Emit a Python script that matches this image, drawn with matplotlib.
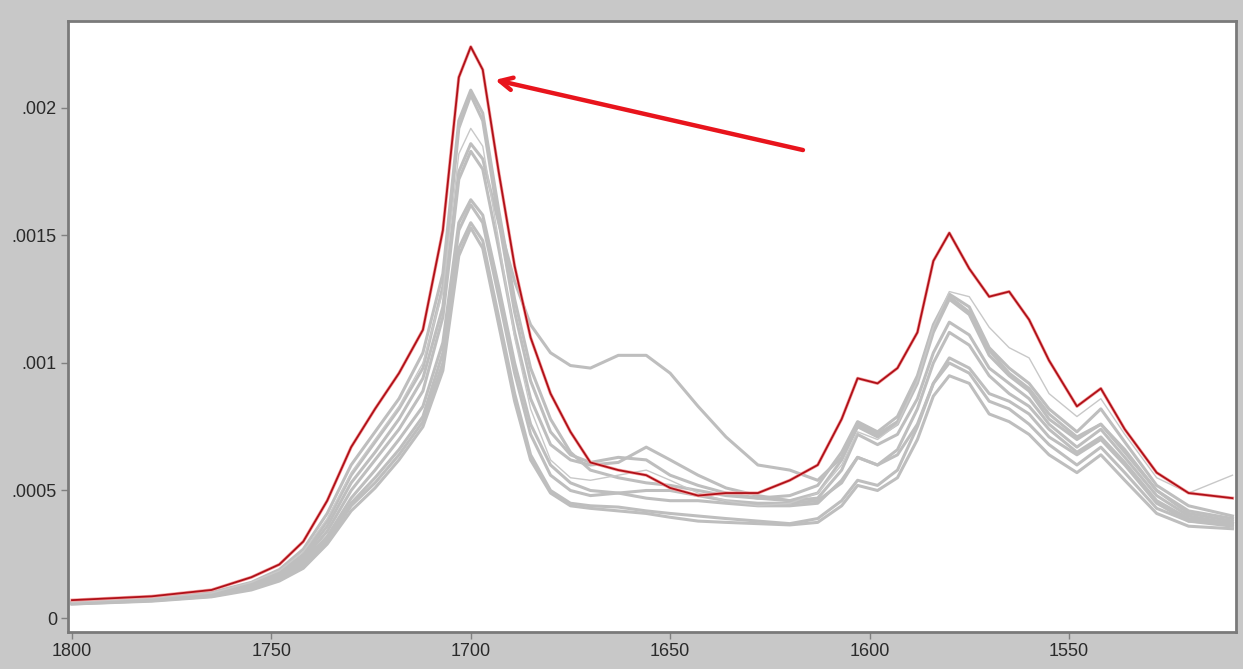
import matplotlib
matplotlib.use("Agg")
import matplotlib.pyplot as plt
from matplotlib.ticker import FuncFormatter

# wavenumber grid (cm-1) shared by all spectra
wavenumber = [1800, 1780, 1765, 1755, 1748, 1742, 1736, 1730, 1724, 1718,
              1712, 1707, 1703, 1700, 1697, 1693, 1689, 1685, 1680, 1675,
              1670, 1663, 1656, 1650, 1643, 1636, 1628, 1620, 1613, 1607,
              1603, 1598, 1593, 1588, 1584, 1580, 1575, 1570, 1565, 1560,
              1555, 1548, 1542, 1536, 1528, 1520, 1509]

# absorbance values in units of 1e-4
red_spectrum = [0.70, 0.85, 1.1, 1.6, 2.1, 3.0, 4.6, 6.7, 8.2, 9.6,
                11.3, 15.2, 21.2, 22.4, 21.5, 17.5, 13.8, 11.0, 8.8, 7.3,
                6.1, 5.8, 5.6, 5.1, 4.8, 4.9, 4.9, 5.4, 6.0, 7.8,
                9.4, 9.2, 9.8, 11.2, 14.0, 15.1, 13.7, 12.6, 12.8, 11.7,
                10.1, 8.3, 9.0, 7.4, 5.7, 4.9, 4.7]

gray_1 = [0.65, 0.8, 1.0, 1.4, 1.9, 2.7, 4.1, 6.0, 7.3, 8.6,
          10.4, 13.5, 19.5, 20.7, 19.8, 16.0, 12.5, 9.8, 7.8, 6.5,
          5.8, 5.5, 5.3, 5.2, 5.0, 4.8, 4.7, 4.8, 5.2, 6.5,
          7.7, 7.3, 7.9, 9.5, 11.5, 12.7, 12.2, 10.6, 9.8, 9.2,
          8.2, 7.3, 8.2, 6.9, 5.2, 4.4, 4.0]
gray_2 = [0.6, 0.75, 0.95, 1.35, 1.8, 2.5, 3.8, 5.6, 6.9, 8.2,
          9.8, 13.0, 19.2, 20.5, 19.5, 15.6, 12.0, 9.3, 7.3, 6.4,
          6.1, 6.3, 6.2, 5.6, 5.2, 4.9, 4.7, 4.6, 4.9, 6.2,
          7.5, 7.1, 7.6, 9.2, 11.2, 12.5, 11.9, 10.3, 9.5, 8.9,
          7.8, 7.0, 7.6, 6.5, 5.0, 4.1, 3.8]
gray_3 = [0.6, 0.75, 0.95, 1.3, 1.75, 2.4, 3.6, 5.3, 6.5, 7.8,
          9.4, 12.2, 17.5, 18.6, 18.0, 15.5, 13.2, 11.5, 10.4, 9.9,
          9.8, 10.3, 10.3, 9.6, 8.3, 7.1, 6.0, 5.8, 5.4, 6.3,
          7.6, 7.2, 7.7, 9.4, 11.4, 12.6, 12.0, 10.5, 9.6, 9.0,
          8.0, 7.1, 7.6, 6.6, 5.0, 4.2, 3.9]
gray_4 = [0.6, 0.72, 0.9, 1.25, 1.7, 2.3, 3.4, 5.0, 6.2, 7.4,
          8.9, 11.8, 17.2, 18.3, 17.6, 14.5, 11.2, 8.6, 6.8, 6.2,
          6.0, 6.1, 6.7, 6.2, 5.6, 5.1, 4.8, 4.6, 4.7, 5.8,
          7.2, 6.8, 7.2, 8.6, 10.4, 11.6, 11.1, 9.8, 9.2, 8.6,
          7.6, 6.7, 7.4, 6.3, 4.8, 4.0, 3.7]
gray_5 = [0.58, 0.7, 0.88, 1.2, 1.6, 2.2, 3.2, 4.7, 5.8, 7.0,
          8.3, 10.8, 15.5, 16.4, 15.8, 13.0, 10.0, 7.6, 6.0, 5.3,
          5.0, 4.9, 4.7, 4.6, 4.6, 4.5, 4.4, 4.4, 4.5, 5.4,
          6.3, 6.0, 6.6, 8.2, 10.0, 11.2, 10.7, 9.5, 8.8, 8.3,
          7.4, 6.5, 7.1, 6.1, 4.6, 3.9, 3.7]
gray_6 = [0.58, 0.7, 0.86, 1.2, 1.55, 2.1, 3.1, 4.5, 5.5, 6.6,
          7.9, 10.4, 15.2, 16.2, 15.5, 12.6, 9.6, 7.2, 5.6, 5.0,
          4.8, 4.9, 5.0, 5.0, 4.8, 4.6, 4.5, 4.5, 4.6, 5.3,
          6.3, 6.0, 6.4, 7.6, 9.2, 10.2, 9.8, 8.8, 8.5, 8.0,
          7.1, 6.4, 7.0, 6.0, 4.5, 3.8, 3.6]
gray_7 = [0.55, 0.68, 0.85, 1.15, 1.5, 2.0, 3.0, 4.4, 5.3, 6.4,
          7.7, 10.0, 14.5, 15.5, 14.8, 11.8, 8.8, 6.4, 5.0, 4.5,
          4.4, 4.35, 4.2, 4.1, 4.0, 3.9, 3.8, 3.7, 3.9, 4.6,
          5.4, 5.2, 5.8, 7.5, 9.2, 10.0, 9.6, 8.5, 8.2, 7.6,
          6.8, 6.0, 6.7, 5.7, 4.3, 3.8, 3.7]
gray_8 = [0.55, 0.66, 0.83, 1.1, 1.45, 1.95, 2.9, 4.2, 5.1, 6.2,
          7.5, 9.7, 14.2, 15.3, 14.5, 11.5, 8.5, 6.2, 4.9, 4.4,
          4.3, 4.2, 4.1, 3.95, 3.8, 3.75, 3.7, 3.65, 3.75, 4.4,
          5.2, 5.0, 5.5, 7.0, 8.7, 9.5, 9.2, 8.0, 7.7, 7.2,
          6.4, 5.7, 6.4, 5.4, 4.1, 3.6, 3.5]
# thinner, lighter trace
gray_thin = [0.62, 0.78, 0.98, 1.4, 1.85, 2.6, 3.9, 5.7, 7.0, 8.3,
             10.0, 12.8, 18.2, 19.2, 18.5, 14.8, 11.0, 8.2, 6.2, 5.5,
             5.4, 5.6, 5.8, 5.4, 4.9, 4.6, 4.4, 4.5, 4.9, 6.0,
             7.3, 7.0, 7.6, 9.3, 11.4, 12.8, 12.6, 11.4, 10.6, 10.2,
             8.8, 7.9, 8.6, 7.2, 5.5, 4.9, 5.6]

gray_spectra = [gray_1, gray_2, gray_3, gray_4, gray_5, gray_6, gray_7, gray_8]

x_ticks = [1800, 1750, 1700, 1650, 1600, 1550]
y_ticks = [0, 0.0005, 0.001, 0.0015, 0.002]
y_labels = ["0", ".0005", ".001", ".0015", ".002"]

SCALE = 1e-4


def scaled(vals):
    return [v * SCALE for v in vals]


fig = plt.figure(figsize=(12.43, 6.69), dpi=100, facecolor="#c8c8c8")
ax = fig.add_axes([0.0547, 0.0553, 0.9397, 0.9133])
ax.set_facecolor("white")

for g in gray_spectra:
    ax.plot(wavenumber, scaled(g), color="#bebebe", linewidth=2.2, zorder=2)
ax.plot(wavenumber, scaled(gray_thin), color="#c8c8c8", linewidth=1.0, zorder=2)

ax.plot(wavenumber, scaled(red_spectrum), color="#f4a0a0", linewidth=2.3, zorder=3)
ax.plot(wavenumber, scaled(red_spectrum), color="#b01018", linewidth=1.3, zorder=4)

# arrow pointing at the main peak
ax.annotate("", xy=(1693.9, 0.00211), xytext=(1616.7, 0.001835),
            arrowprops=dict(arrowstyle="->,head_length=0.9,head_width=0.45",
                            color="#e8141c", lw=3.2, shrinkA=0, shrinkB=0),
            zorder=5)

ax.set_xlim(1801, 1508.1)
ax.set_ylim(-0.0000549, 0.002341)

ax.set_xticks(x_ticks)
ax.set_xticklabels([str(t) for t in x_ticks])
ax.set_yticks(y_ticks)
ax.set_yticklabels(y_labels)

ax.tick_params(axis="both", direction="out", length=5, width=1, color="#808080",
               labelsize=13, labelcolor="#2a2a2a", pad=3)
for lab in ax.get_xticklabels() + ax.get_yticklabels():
    lab.set_family("Liberation Sans")

for side in ["left", "right", "top", "bottom"]:
    ax.spines[side].set_color("#7a7a7a")
    ax.spines[side].set_linewidth(2)

fig.savefig("out.png", dpi=100, facecolor=fig.get_facecolor())
